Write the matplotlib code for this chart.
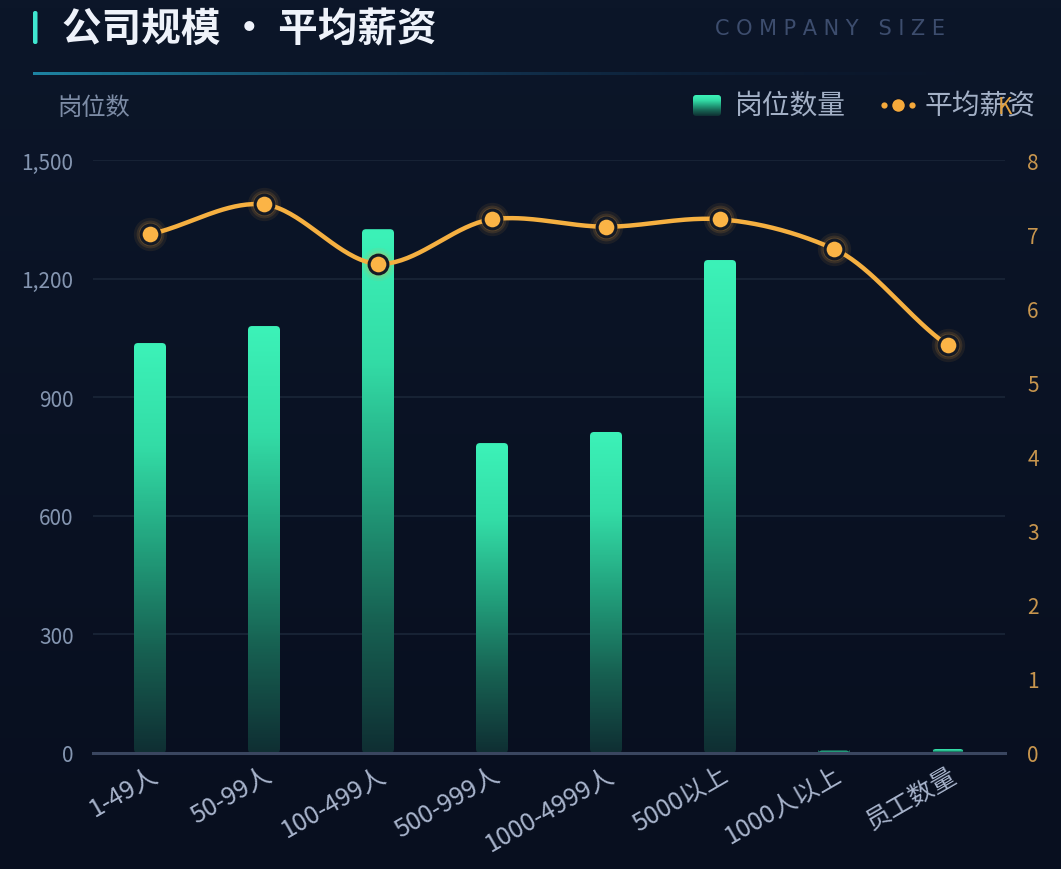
import numpy as np
import matplotlib.pyplot as plt
from matplotlib.colors import LinearSegmentedColormap
from matplotlib.patches import FancyBboxPatch
from matplotlib.ticker import FuncFormatter

plt.rcParams['font.family'] = ['Noto Sans CJK SC', 'DejaVu Sans']

# data
categories = ['1-49人', '50-99人', '100-499人', '500-999人', '1000-4999人', '5000以上', '1000人以上', '员工数量']
job_counts = [1037, 1080, 1325, 784, 812, 1247, 6, 10]
avg_salary = [7.0, 7.4, 6.6, 7.2, 7.1, 7.2, 6.8, 5.5]
left_ticks = [0, 300, 600, 900, 1200, 1500]
right_ticks = [0, 1, 2, 3, 4, 5, 6, 7, 8]

BG = '#0a1224'
W, H = 1061, 870
fig = plt.figure(figsize=(W / 100, H / 100), dpi=100, facecolor=BG)

# decoration layer in pixel coords
deco = fig.add_axes([0, 0, 1, 1], zorder=0)
deco.set_xlim(0, W)
deco.set_ylim(H, 0)
deco.axis('off')
bg = np.linspace(0, 1, 100).reshape(-1, 1)
deco.imshow(bg, extent=[0, W, H, 0], aspect='auto',
            cmap=LinearSegmentedColormap.from_list('bg', ['#0c1629', '#080f1f']))

# title accent bar + title
deco.add_patch(FancyBboxPatch((33, 12), 4.5, 33, boxstyle='round,pad=0,rounding_size=2',
                              fc='#3fe6d0', ec='none'))
deco.text(62, 30, '公司规模 · 平均薪资', color='#eef2fa', fontsize=28.5, fontweight='bold',
          va='center', ha='left')
deco.text(830, 29, 'C O M P A N Y   S I Z E', color='#3d4d6e', fontsize=15,
          va='center', ha='center', family='DejaVu Sans')
# divider line gradient
grad = np.linspace(0, 1, 256).reshape(1, -1)
line_cmap = LinearSegmentedColormap.from_list(
    'div', [(0.12, 0.52, 0.64, 1.0), (0.08, 0.25, 0.38, 0.6), (0.05, 0.1, 0.2, 0.0)])
deco.imshow(grad, extent=[33, 1010, 75.5, 72.5], aspect='auto', cmap=line_cmap)

# axis titles
deco.text(57, 108, '岗位数', color='#7d8ca6', fontsize=17.5, va='center', ha='left')

# legend
bar_cmap = LinearSegmentedColormap.from_list(
    'bar', ['#0f2f33', '#176152', '#22a07c', '#33dca6', '#3cf2b8'])
leg_img = np.linspace(1, 0, 50).reshape(-1, 1)
im = deco.imshow(leg_img, extent=[693, 721, 117, 96], aspect='auto', cmap=bar_cmap,
                 zorder=3, origin='upper')
clip = FancyBboxPatch((693, 96), 28, 21, boxstyle='round,pad=0,rounding_size=3',
                      fc='none', ec='none', transform=deco.transData)
deco.add_patch(clip)
im.set_clip_path(clip)
deco.text(735, 106, '岗位数量', color='#a3b0c6', fontsize=20, va='center', ha='left')
deco.plot([884, 912], [106, 106], 'o', color='#f5a93b', ms=4.5, mec='none')
deco.plot([898], [106], 'o', color='#f5a93b', ms=10, mec='#0a1224', mew=1)
deco.text(925, 106, '平均薪资', color='#a3b0c6', fontsize=20, va='center', ha='left')
deco.text(1005, 108, 'K', color='#e0a040', fontsize=16, va='center', ha='center')

# main axes
ax = fig.add_axes([93 / W, 1 - 754 / H, (1005 - 93) / W, (754 - 161) / H], zorder=1)
ax.set_facecolor('none')
x = np.arange(len(categories))
ax.set_xlim(-0.5, len(categories) - 0.5)
ax.set_ylim(0, 1500)
ax.set_yticks(left_ticks)
ax.yaxis.set_major_formatter(FuncFormatter(lambda v, p: f'{int(v):,}'))
ax.grid(axis='y', color='#1a2638', lw=1.2)
ax.set_axisbelow(True)
for s in ['top', 'right', 'left']:
    ax.spines[s].set_visible(False)
ax.spines['bottom'].set_color('#3a4660')
ax.spines['bottom'].set_linewidth(2.2)
ax.tick_params(axis='y', length=0, colors='#8495b0', labelsize=15, pad=14)
ax.tick_params(axis='x', length=0, colors='#a8b4cc', labelsize=18, pad=6)
ax.set_xticks(x)
ax.set_xticklabels(categories, rotation=30, ha='right', rotation_mode='anchor')

# gradient bars with rounded tops
bar_w = 32 / 114
px_x = 114.0
px_y = 593 / 1500
r = 4.0
for xi, v in zip(x, job_counts):
    x0 = xi - bar_w / 2
    img = np.linspace(0, 1, 200).reshape(-1, 1)
    b = ax.imshow(img, extent=[x0, x0 + bar_w, 0, v], origin='lower', aspect='auto',
                  cmap=bar_cmap, zorder=2)
    patch = FancyBboxPatch((x0, 0), bar_w, v,
                           boxstyle=f'round,pad=0,rounding_size={r / px_x}',
                           mutation_aspect=(1 / px_y) / (1 / px_x),
                           fc='none', ec='none')
    ax.add_patch(patch)
    b.set_clip_path(patch)
ax.set_xlim(-0.5, len(categories) - 0.5)
ax.set_ylim(0, 1500)

# salary line
ax2 = ax.twinx()
ax2.set_ylim(0, 8)
ax2.set_yticks(right_ticks)
for s in ax2.spines.values():
    s.set_visible(False)
ax2.tick_params(axis='y', length=0, colors='#c8964e', labelsize=15, pad=16)

# smooth curve through points (cubic hermite)
xs, ys = [], []
xp = np.asarray(x, float)
yp = np.asarray(avg_salary, float)
m = np.gradient(yp, xp) * 0.8
for i in range(len(xp) - 1):
    t = np.linspace(0, 1, 40)
    h00 = 2 * t**3 - 3 * t**2 + 1
    h10 = t**3 - 2 * t**2 + t
    h01 = -2 * t**3 + 3 * t**2
    h11 = t**3 - t**2
    xs.extend(xp[i] + t)
    ys.extend(h00 * yp[i] + h10 * m[i] + h01 * yp[i + 1] + h11 * m[i + 1])
ax2.plot(xs, ys, color='#f5b041', lw=3.2, zorder=3, solid_capstyle='round')
for ms, a in [(24, 0.08), (20, 0.12), (17, 0.18)]:
    ax2.plot(x, avg_salary, 'o', color='#f5a93b', ms=ms, alpha=a, mec='none', zorder=4)
ax2.plot(x, avg_salary, 'o', color='#fbb446', ms=13.5, mec='#141a26', mew=2.2, zorder=5)

fig.savefig('out.png', dpi=100, facecolor=BG)
